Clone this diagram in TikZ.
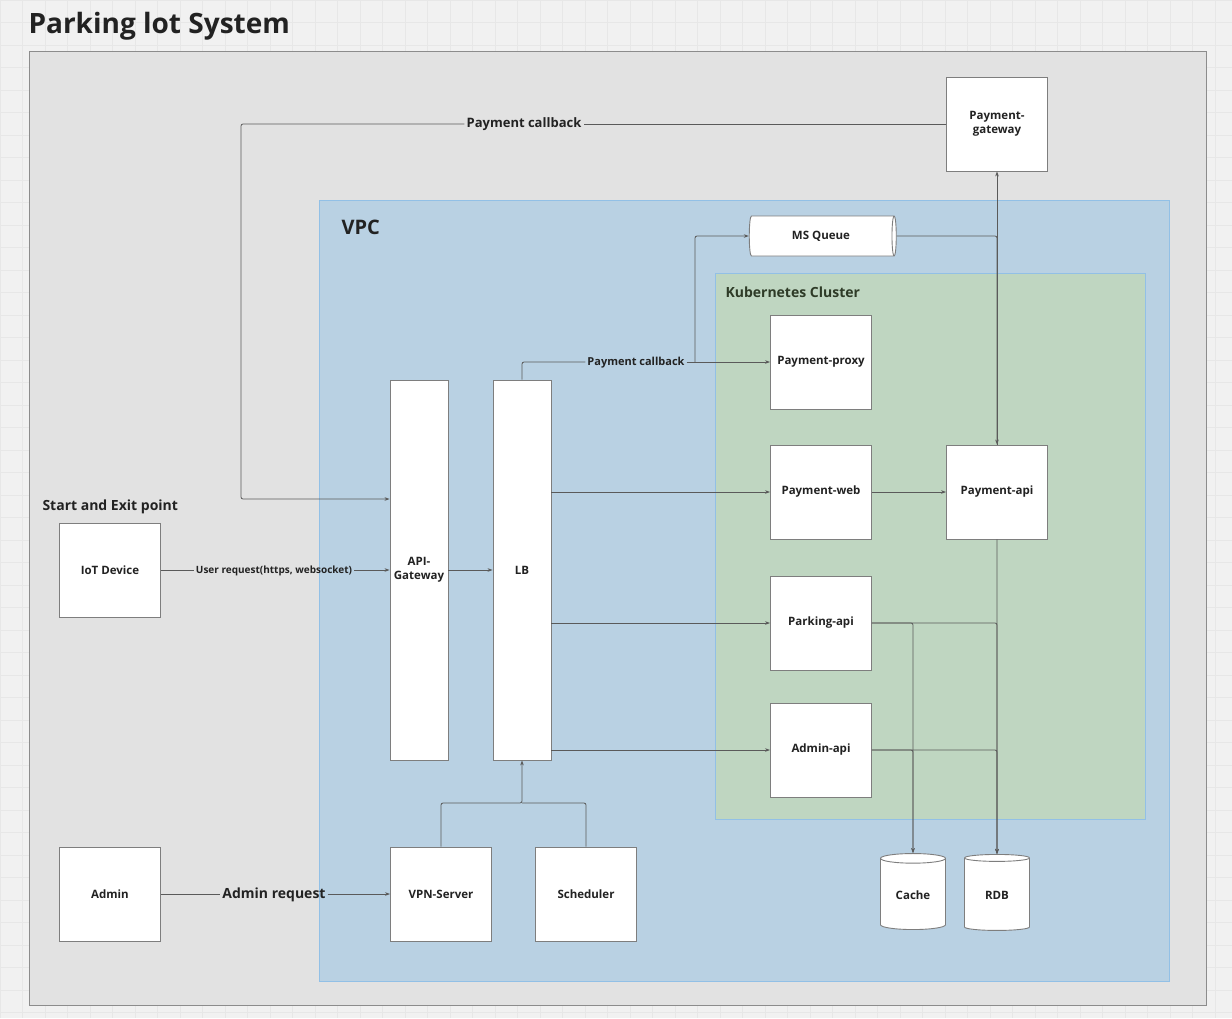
\documentclass[tikz,border=0pt]{standalone}
\usepackage{fontspec}
\setmainfont{Open Sans}
\usetikzlibrary{arrows.meta,shapes.geometric}

\definecolor{canvas}{HTML}{F1F1F1}
\definecolor{gridline}{HTML}{E7E7E7}
\definecolor{sysfill}{HTML}{E2E2E2}
\definecolor{sysline}{HTML}{8C8C8C}
\definecolor{vpcfill}{HTML}{B9D1E3}
\definecolor{vpcline}{HTML}{92C0E6}
\definecolor{k8sfill}{HTML}{BFD6C1}
\definecolor{k8sink}{HTML}{2E3B27}
\definecolor{boxline}{HTML}{7E7E7E}
\definecolor{linegray}{HTML}{5A5A5A}
\definecolor{ink}{HTML}{222222}

\begin{document}
\begin{tikzpicture}[x=1pt, y=-1pt,
    box/.style={draw=boxline, fill=white, line width=0.9pt, inner sep=2pt,
      minimum width=101pt, minimum height=94pt, align=center,
      font=\fontsize{11.5}{14}\selectfont\bfseries, text=ink},
    tall/.style={box, minimum width=58pt, minimum height=380pt},
    db/.style={box, cylinder, shape border rotate=90, aspect=0.25,
      minimum width=65pt, minimum height=76pt},
    link/.style={draw=linegray, line width=0.8pt, rounded corners=2pt},
    arr/.style={link, -{Stealth[length=5pt,width=3.6pt]}},
    tag/.style={inner sep=2pt, text=ink, font=\bfseries}
  ]
  \useasboundingbox (0,0) rectangle (1232,1018);
  \fill[canvas] (0,0) rectangle (1232,1018);
  \draw[gridline, line width=0.6pt, step=22.5pt] (0,0) grid (1232,1018);

  % areas
  \node[anchor=west, text=ink, font=\fontsize{28}{33}\selectfont\bfseries] (title) at (25,26) {Parking lot System};
  \draw[draw=sysline, fill=sysfill, line width=1pt] (29,51) rectangle (1206,1005);
  \draw[draw=vpcline, fill=vpcfill, line width=1pt] (319,200) rectangle (1169,981);
  \node[anchor=west, text=ink, font=\fontsize{20}{24}\selectfont\bfseries] (vpc) at (338,227) {VPC};
  \draw[draw=vpcline, fill=k8sfill, line width=1pt] (715,273) rectangle (1145,819);
  \node[anchor=west, text=k8sink, font=\fontsize{14}{17}\selectfont\bfseries] (k8s) at (722,292) {Kubernetes Cluster};
  \node[anchor=west, text=ink, font=\fontsize{14}{17}\selectfont\bfseries] (entry) at (39,507) {Start and Exit point};

  % nodes
  \node[box] (pgw) at (997,124) {Payment-\\gateway};
  \node[box, cylinder, shape border rotate=0, aspect=0.3, minimum width=40pt, minimum height=147pt] (msq) at (821,236) {MS Queue};
  \node[box] (ppx) at (821,362) {Payment-proxy};
  \node[box] (pweb) at (821,492) {Payment-web};
  \node[box] (papi) at (997,492) {Payment-api};
  \node[box] (pkapi) at (821,623) {Parking-api};
  \node[box] (adapi) at (821,750) {Admin-api};
  \node[tall] (apigw) at (419,570) {API-\\Gateway};
  \node[tall] (lb) at (522,570) {LB};
  \node[box] (iot) at (110,570) {IoT Device};
  \node[box] (admin) at (110,894) {Admin};
  \node[box] (vpn) at (441,894) {VPN-Server};
  \node[box] (sched) at (586,894) {Scheduler};
  \node[db] (cache) at (913,895) {Cache};
  \node[db] (rdb) at (997,895) {RDB};

  % labels on lines
  \node[tag, font=\fontsize{13}{16}\selectfont\bfseries] (cbtop) at (524,124) {Payment callback};
  \node[tag, font=\fontsize{11}{13}\selectfont\bfseries] (cblb) at (636,363) {Payment callback};
  \node[tag, font=\fontsize{10}{12}\selectfont\bfseries] (req) at (274,571) {User request(https, websocket)};
  \node[tag, font=\fontsize{14}{17}\selectfont\bfseries] (adreq) at (274,895) {Admin request};
  \coordinate (split) at (695,362);
  \coordinate (join) at (522,803);

  % connectors
  \draw[link] (pgw.west) -- (cbtop.east |- pgw.west);
  \draw[arr] (cbtop.west |- pgw.west) -| (241,499) -- ([yshift=71pt]apigw.west);
  \draw[link] (iot.east) -- (req.west |- iot.east);
  \draw[arr] (req.east |- iot.east) -- (apigw.west);
  \draw[arr] (apigw.east) -- (lb.west);
  \draw[link] (lb.north) |- (cblb.west |- split);
  \draw[arr] (cblb.east |- split) -- (ppx.west);
  \draw[arr] (split) |- (msq.west);
  \foreach \t in {pweb,pkapi,adapi}
    \draw[arr] (lb.east |- \t.west) -- (\t.west);
  \draw[arr] (pweb.east) -- (papi.west);
  \draw[arr] (msq.east) -| (papi.north);
  \draw[arr] (papi.north) -- (pgw.south);
  \draw[arr] (papi.south) -- (rdb.north);
  \foreach \s in {pkapi,adapi}
    \foreach \d in {cache,rdb}
      \draw[arr] (\s.east) -| (\d.north);
  \draw[arr] (vpn.north) |- (join) -- (lb.south);
  \draw[link] (sched.north) |- (join);
  \draw[link] (admin.east) -- (adreq.west |- admin.east);
  \draw[arr] (adreq.east |- admin.east) -- (vpn.west);
\end{tikzpicture}
\end{document}
